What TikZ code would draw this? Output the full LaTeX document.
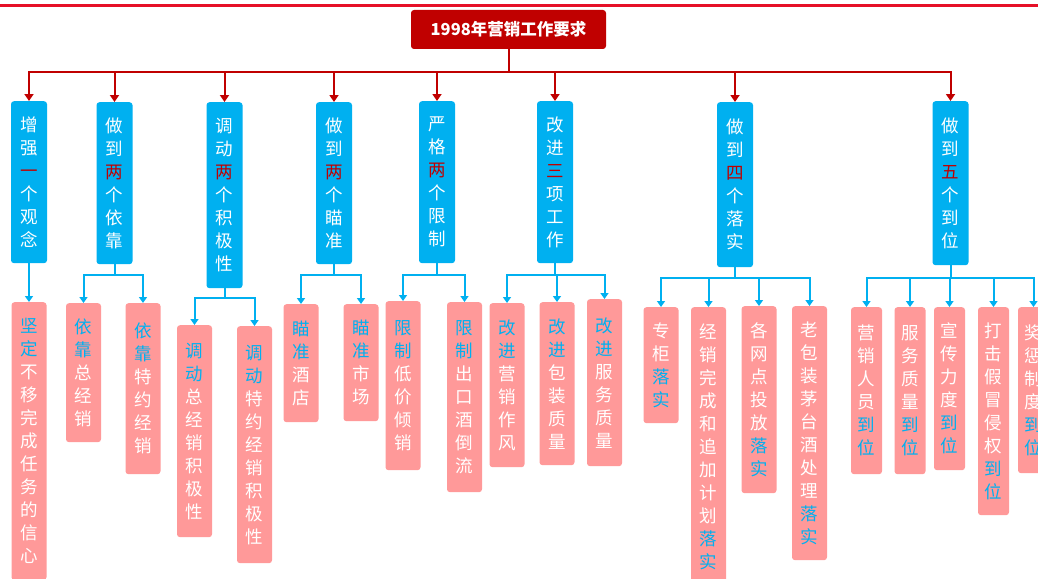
\documentclass[tikz,border=0pt]{standalone}
\usepackage{fontspec}
\newfontfamily\cjk{Noto Sans CJK SC}
\usetikzlibrary{arrows.meta}
\definecolor{topred}{RGB}{230,16,40}
\definecolor{dred}{RGB}{192,0,0}
\definecolor{cyanb}{RGB}{0,176,240}
\definecolor{pinkb}{RGB}{255,153,153}
\newcommand\accr[1]{\textcolor{dred}{#1}}
\newcommand\accb[1]{\textcolor{cyanb}{#1}}
\begin{document}
\begin{tikzpicture}[x=1pt,y=-1pt,
 rootbox/.style={fill=dred, rounded corners=3pt, text=white, font=\cjk\bfseries\fontsize{16.5}{19}\selectfont, minimum width=195pt, minimum height=39pt, inner sep=0pt},
 vbox/.style={rounded corners=3pt, inner sep=0pt, anchor=north, align=center, text=white, font=\cjk\fontsize{17.5}{23}\selectfont},
 bluebox/.style={vbox, fill=cyanb, minimum width=36pt},
 pinkbox/.style={vbox, fill=pinkb, minimum width=35pt},
 pinkboxn/.style={vbox, fill=pinkb, minimum width=31pt},
 redarrow/.style={draw=dred, line width=2pt, -{Triangle[width=9pt,length=7pt]}},
 bluearrow/.style={draw=cyanb, line width=2pt, -{Triangle[width=8pt,length=6pt]}}]
\useasboundingbox (0,0) rectangle (1038,578);
\fill[white] (0,0) rectangle (1038,578);
\draw[topred, line width=3pt] (0,5.5) -- (1038,5.5);
\node[rootbox] (root) at (508.5,29.5) {1998年营销工作要求};
% level 1
\node[bluebox, minimum height=162pt] (b1) at (29,101) {增\\强\\\accr{一}\\个\\观\\念};
\node[bluebox, minimum height=162pt] (b2) at (114.5,102) {做\\到\\\accr{两}\\个\\依\\靠};
\node[bluebox, minimum height=186pt] (b3) at (224.5,102) {调\\动\\\accr{两}\\个\\积\\极\\性};
\node[bluebox, minimum height=162pt] (b4) at (334,102) {做\\到\\\accr{两}\\个\\瞄\\准};
\node[bluebox, minimum height=162pt] (b5) at (437,101) {严\\格\\\accr{两}\\个\\限\\制};
\node[bluebox, minimum height=162pt] (b6) at (555,101) {改\\进\\\accr{三}\\项\\工\\作};
\node[bluebox, minimum height=165pt] (b7) at (735,102) {做\\到\\\accr{四}\\个\\落\\实};
\node[bluebox, minimum height=164pt] (b8) at (950.5,101) {做\\到\\\accr{五}\\个\\到\\位};
% level 2
\node[pinkbox, minimum height=278pt] (p1) at (29,302) {\accb{坚}\\\accb{定}\\不\\移\\完\\成\\任\\务\\的\\信\\心};
\node[pinkbox, minimum height=139pt] (p2) at (83.5,303) {\accb{依}\\\accb{靠}\\总\\经\\销};
\node[pinkbox, minimum height=171pt] (p3) at (143,303) {\accb{依}\\\accb{靠}\\特\\约\\经\\销};
\node[pinkbox, minimum height=212pt] (p4) at (194.5,325) {\accb{调}\\\accb{动}\\总\\经\\销\\积\\极\\性};
\node[pinkbox, minimum height=237pt] (p5) at (254.5,326) {\accb{调}\\\accb{动}\\特\\约\\经\\销\\积\\极\\性};
\node[pinkbox, minimum height=118pt] (p6) at (301,304) {\accb{瞄}\\\accb{准}\\酒\\店};
\node[pinkbox, minimum height=117pt] (p7) at (361,304) {\accb{瞄}\\\accb{准}\\市\\场};
\node[pinkbox, minimum height=169pt] (p8) at (403,301) {\accb{限}\\\accb{制}\\低\\价\\倾\\销};
\node[pinkbox, minimum height=190pt] (p9) at (464.5,302) {\accb{限}\\\accb{制}\\出\\口\\酒\\倒\\流};
\node[pinkbox, minimum height=164pt] (p10) at (507,303) {\accb{改}\\\accb{进}\\营\\销\\作\\风};
\node[pinkbox, minimum height=163pt] (p11) at (557,302) {\accb{改}\\\accb{进}\\包\\装\\质\\量};
\node[pinkbox, minimum height=167pt] (p12) at (604.5,299) {\accb{改}\\\accb{进}\\服\\务\\质\\量};
\node[pinkbox, minimum height=116pt] (p13) at (661,307) {专\\柜\\\accb{落}\\\accb{实}};
\node[pinkbox, minimum height=280pt] (p14) at (708.5,307) {经\\销\\完\\成\\和\\追\\加\\计\\划\\\accb{落}\\\accb{实}};
\node[pinkbox, minimum height=187pt] (p15) at (759,306) {各\\网\\点\\投\\放\\\accb{落}\\\accb{实}};
\node[pinkbox, minimum height=254pt] (p16) at (809.5,306) {老\\包\\装\\茅\\台\\酒\\处\\理\\\accb{落}\\\accb{实}};
\node[pinkboxn, minimum height=167pt] (p17) at (866.5,307) {营\\销\\人\\员\\\accb{到}\\\accb{位}};
\node[pinkboxn, minimum height=167pt] (p18) at (910,307) {服\\务\\质\\量\\\accb{到}\\\accb{位}};
\node[pinkboxn, minimum height=163pt] (p19) at (949.5,307) {宣\\传\\力\\度\\\accb{到}\\\accb{位}};
\node[pinkboxn, minimum height=208pt] (p20) at (993.5,307) {打\\击\\假\\冒\\侵\\权\\\accb{到}\\\accb{位}};
\node[pinkboxn, minimum height=166pt] (p21) at (1033.5,307) {奖\\惩\\制\\度\\\accb{到}\\\accb{位}};
% red connectors
\foreach \b in {b1,b2,b3,b4,b5,b6,b7,b8}
  \draw[redarrow] (root.south) -- ++(0,23) -| (\b.north);
% blue connectors
\draw[bluearrow] (b1.south) -- (p1.north);
\foreach \p in {p2,p3} \draw[bluearrow] (b2.south) -- ++(0,11) -| (\p.north);
\foreach \p in {p4,p5} \draw[bluearrow] (b3.south) -- ++(0,10) -| (\p.north);
\foreach \p in {p6,p7} \draw[bluearrow] (b4.south) -- ++(0,11) -| (\p.north);
\foreach \p in {p8,p9} \draw[bluearrow] (b5.south) -- ++(0,12) -| (\p.north);
\foreach \p in {p10,p11,p12} \draw[bluearrow] (b6.south) -- ++(0,12) -| (\p.north);
\foreach \p in {p13,p14,p15,p16} \draw[bluearrow] (b7.south) -- ++(0,11) -| (\p.north);
\foreach \p in {p17,p18,p19,p20,p21} \draw[bluearrow] (b8.south) -- ++(0,13) -| (\p.north);
\end{tikzpicture}
\end{document}
